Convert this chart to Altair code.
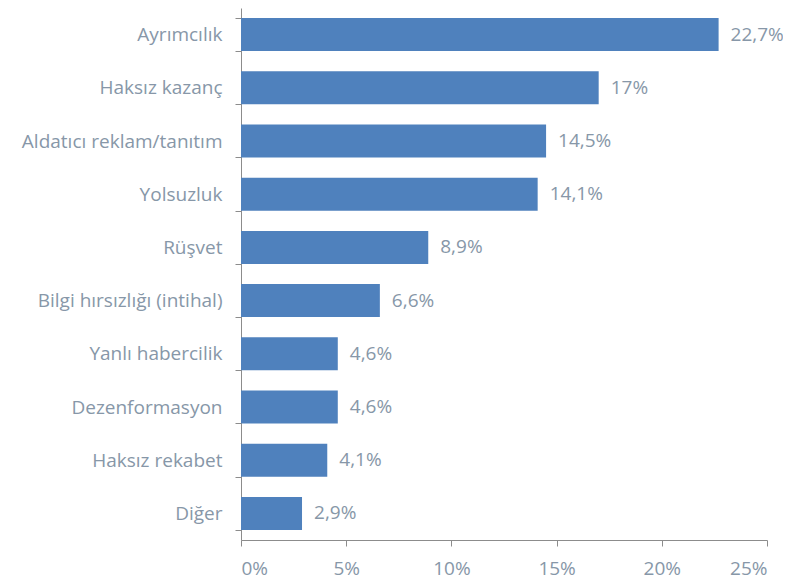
import altair as alt
import pandas as pd

categories = ["Ayrımcılık", "Haksız kazanç", "Aldatıcı reklam/tanıtım", "Yolsuzluk", "Rüşvet",
              "Bilgi hırsızlığı  (intihal)", "Yanlı habercilik", "Dezenformasyon", "Haksız rekabet", "Diğer"]
values = [22.7, 17, 14.5, 14.1, 8.9, 6.6, 4.6, 4.6, 4.1, 2.9]
x_ticks = [0, 5, 10, 15, 20, 25]

df = pd.DataFrame({
    "cat": categories,
    "val": values,
    "lab": [f"{v:g}".replace(".", ",") + "%" for v in values],
})

FONT = "Open Sans"
FS = 19
TXT = "#8797a8"
AX = "#8c8c8c"

base = alt.Chart(df).encode(
    y=alt.Y("cat:N", sort=categories, title=None,
            scale=alt.Scale(paddingInner=0.38, paddingOuter=0.19),
            axis=alt.Axis(tickBand="extent", tickSize=6, tickColor=AX, domainColor=AX,
                          labelFont=FONT, labelFontSize=FS, labelColor=TXT, labelPadding=13,
                          labelLimit=300, grid=False)),
)

bars = base.mark_bar(color="#4f81bd").encode(
    x=alt.X("val:Q", title=None,
            scale=alt.Scale(domain=[0, 25], nice=False),
            axis=alt.Axis(values=x_ticks, labelExpr="datum.value + '%'", tickSize=6,
                          tickColor=AX, domainColor=AX, labelFont=FONT, labelFontSize=FS,
                          labelColor=TXT, labelPadding=13, grid=False))
)

text = base.mark_text(align="left", baseline="middle", dx=12, font=FONT, fontSize=FS, color=TXT).encode(
    x="val:Q", text="lab:N"
)

chart = (bars + text).properties(
    width=526, height=532,
    autosize=alt.AutoSizeParams(type="none"),
    padding={"left": 233, "top": 0, "right": 16, "bottom": 40},
).configure_view(stroke=None)

chart.save("out.html", embed_options={"renderer": "svg", "actions": False})
